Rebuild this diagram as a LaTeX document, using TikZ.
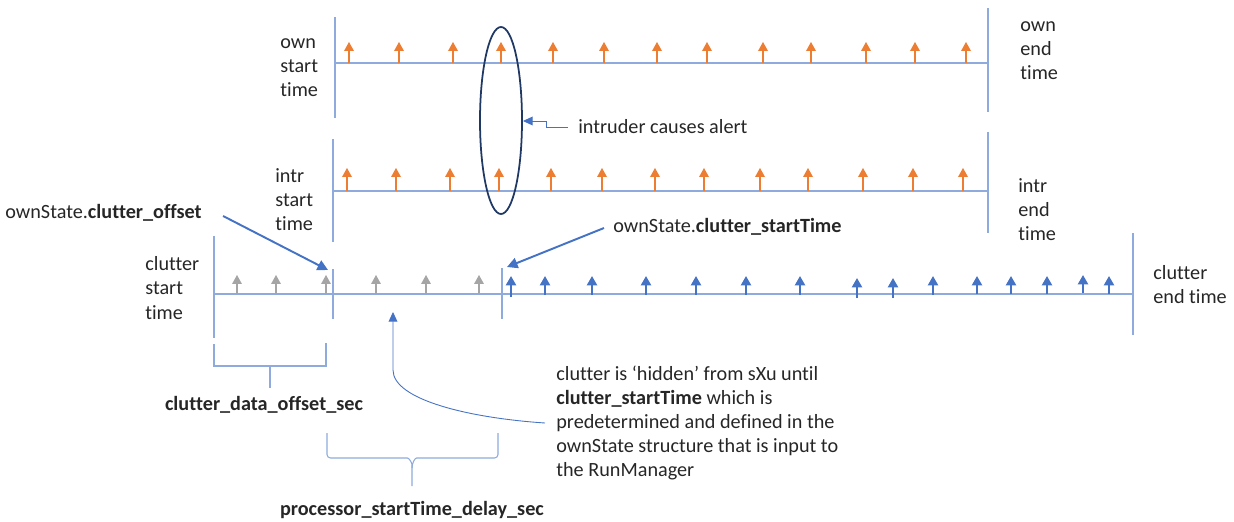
\documentclass[tikz,border=0pt]{standalone}
\usepackage{fontspec}
\setmainfont{Carlito}[Ligatures={NoCommon,NoContextual}]
\usetikzlibrary{arrows.meta}
\definecolor{lineblue}{HTML}{8FAADC}
\definecolor{tickorange}{HTML}{ED7D31}
\definecolor{tickgray}{HTML}{A5A5A5}
\definecolor{tickblue}{HTML}{4472C4}
\definecolor{ringnavy}{HTML}{203864}
\definecolor{txtgray}{HTML}{262626}
\tikzset{
	lbl/.style={font=\fontsize{11.5}{13.7}\selectfont, text=txtgray, inner sep=0pt, align=left},
	timeline/.style={draw=lineblue, line width=0.75pt},
	owntick/.style={draw=tickorange, line width=0.6pt, -{Triangle[width=5.4pt,length=5pt,fill=tickorange]}},
	greytick/.style={draw=tickgray, line width=0.6pt, -{Triangle[width=5.4pt,length=5pt,fill=tickgray]}},
	cluttick/.style={draw=tickblue, line width=1.2pt, -{Triangle[width=5.8pt,length=5.4pt,fill=tickblue]}},
	callout/.style={draw=tickblue, line width=1.1pt, -{Triangle[width=6pt,length=6pt,fill=tickblue]}},
	thincallout/.style={draw=tickblue, line width=0.5pt, -{Triangle[width=5pt,length=5.5pt,fill=tickblue]}},
	bracket/.style={draw=lineblue, line width=0.6pt},
}
\begin{document}
\begin{tikzpicture}[x=0.02cm, y=-0.02cm]
	\useasboundingbox (0,0) rectangle (1234,521);

	% own timeline
	\draw[timeline] (335,17) -- (335,118);
	\draw[timeline] (988,8) -- (988,112);
	\draw[timeline] (335,63) -- (988,63);
	\foreach \x in {349,399,453,501,553,604,657,707,763,811,866,915,966}
		\draw[owntick] (\x,63) -- (\x,42);
	\node[lbl, anchor=west] (ownstart) at (280,68) {own\\start\\time};
	\node[lbl, anchor=west] (ownend) at (1020,51) {own\\end\\time};

	% intr timeline
	\draw[timeline] (333,139) -- (333,242);
	\draw[timeline] (988,132) -- (988,233);
	\draw[timeline] (333,191) -- (988,191);
	\foreach \x in {347,396,450,499,551,602,655,704,760,808,863,913,963}
		\draw[owntick] (\x,191) -- (\x,168);
	\node[lbl, anchor=west] (intrstart) at (275,200) {intr\\start\\time};
	\node[lbl, anchor=west] (intrend) at (1018,210) {intr\\end\\time};

	\draw[ringnavy, line width=1pt] (501,120.5) ellipse (21 and 93.5);
	\coordinate (ringtip) at (523,121);
	\node[lbl, anchor=west] (alertlbl) at (578,127) {intruder causes alert};
	\draw[thincallout] (alertlbl.west) ++(-10,0) -- (546,127) -- (546,121) -- (ringtip);

	% clutter timeline
	\draw[timeline] (214,236) -- (214,338);
	\draw[timeline] (1133,233) -- (1133,335);
	\draw[timeline] (214,294) -- (1133,294);
	\draw[timeline, line width=0.6pt] (333,269) -- (333,319);
	\draw[timeline, line width=0.6pt] (502,268) -- (502,319);
	\foreach \x in {237,276,326,376,426,479}
		\draw[greytick] (\x,294) -- (\x,275);
	\foreach \x/\b/\t in {511/297/276,545/295/276,592/295/276,646/295/276,696/295/276,746/295/276,800/295/276,857/298/278,893/298/278,933/295/276,977/294/276,1011/294/276,1047/294/276,1083/293/275,1109/294/276}
		\draw[cluttick] (\x,\b) -- (\x,\t);
	\node[lbl, anchor=west] (clutstart) at (145,288) {clutter\\start\\time};
	\node[lbl, anchor=west] (clutend) at (1153,285) {clutter\\end time};

	\coordinate (offsettip) at (328,270);
	\coordinate (starttip) at (507,267);
	\node[lbl, anchor=west] (offsetlbl) at (5,213) {ownState.\textbf{clutter\_offset}};
	\node[lbl, anchor=west] (startlbl) at (613,227) {ownState.\textbf{clutter\_startTime}};
	\draw[callout] (offsetlbl.east) ++(21,3) -- (offsettip);
	\draw[callout] (startlbl.west) ++(-9,1) -- (starttip);

	% brackets
	\draw[bracket] (214,344) -- (214,366) -- (326,366) -- (326,343);
	\coordinate (offsetstem) at (270,388);
	\draw[bracket] (270,366) -- (offsetstem);
	\node[lbl] (offsetsec) at (264,405) {\textbf{clutter\_data\_offset\_sec}};

	\draw[bracket, rounded corners=2pt] (327,433) -- (327,458) -- (404,458) to[out=0,in=90] (412,468) -- (412,486);
	\draw[bracket, rounded corners=2pt] (498,433) -- (498,458) -- (420,458) to[out=180,in=90] (412,468);
	\node[lbl] (delaysec) at (412,510) {\textbf{processor\_startTime\_delay\_sec}};

	\node[lbl, anchor=west] (hidlbl) at (556,423) {clutter is ‘hidden’ from sXu until\\\textbf{clutter\_startTime} which is\\predetermined and defined in the\\ownState structure that is input to\\the RunManager};
	\coordinate (hidtip) at (393,312);
	\draw[thincallout] (hidlbl.west) ++(-11,0) .. controls (470,418) and (393,400) .. (393,370) -- (hidtip);

\end{tikzpicture}
\end{document}
